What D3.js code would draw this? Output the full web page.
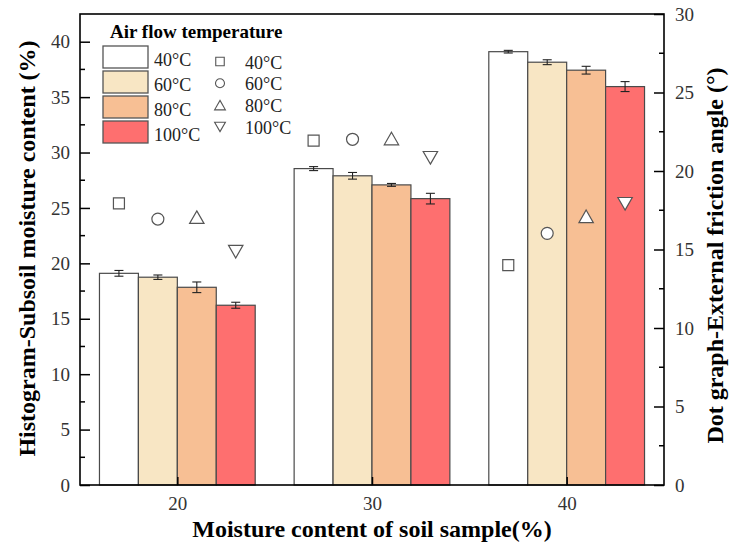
<!DOCTYPE html>
<html>
<head>
<meta charset="utf-8">
<script src="https://cdn.jsdelivr.net/npm/d3@7"></script>
<style>
  html, body { margin: 0; padding: 0; background: #fff; }
  svg { display: block; }
  text { font-family: "Times New Roman", "Liberation Serif", serif; }
</style>
</head>
<body>
<svg id="chart" width="731" height="542"></svg>
<script>
// moisture content of the soil sample (%)
const groups = [20, 30, 40];
// air flow temperatures
const temps = ['40°C', '60°C', '80°C', '100°C'];
// histogram: subsoil moisture content (%) per group, one value per temperature
const moisture = [
  [19.1, 18.75, 17.84, 16.22],
  [28.55, 27.9, 27.08, 25.84],
  [39.1, 38.15, 37.43, 35.95]
];
const moistureErr = [
  [0.26, 0.2, 0.48, 0.27],
  [0.18, 0.3, 0.13, 0.48],
  [0.12, 0.22, 0.35, 0.45]
];
// dot graph: external friction angle (°)
const angle = [
  [17.94, 16.94, 17.06, 14.86],
  [21.93, 22.02, 22.07, 20.84],
  [14.01, 16.03, 17.11, 17.91]
];
const leftTicks = [0, 5, 10, 15, 20, 25, 30, 35, 40];
const rightTicks = [0, 5, 10, 15, 20, 25, 30];
const barOffsets = [-3, -1, 1, 3];
const barColors = ['#ffffff', '#f8e6c4', '#f7bf94', '#fe6f6f'];
const markerShapes = ['square', 'circle', 'triangleUp', 'triangleDown'];

const margin = { top: 14, right: 67, bottom: 57, left: 80 };
const svg = d3.select('#chart');
const width = 731 - margin.left - margin.right;
const height = 542 - margin.top - margin.bottom;

const g = svg.append('g')
  .attr('transform', `translate(${margin.left},${margin.top})`);

const x = d3.scaleLinear().domain([15, 45]).range([0, width]);
const yLeft = d3.scaleLinear().domain([0, 42.5]).range([height, 0]);
const yRight = d3.scaleLinear().domain([0, 30]).range([height, 0]);
const barW = x(2) - x(0);

// flatten the table for drawing
const rows = [];
groups.forEach((grp, gi) => {
  temps.forEach((t, ti) => {
    rows.push({
      grp, ti,
      cx: grp + barOffsets[ti],
      v: moisture[gi][ti],
      e: moistureErr[gi][ti],
      a: angle[gi][ti]
    });
  });
});

// bars
g.append('g').selectAll('rect')
  .data(rows)
  .enter()
  .append('rect')
  .attr('x', d => x(d.cx) - barW / 2)
  .attr('y', d => yLeft(d.v))
  .attr('width', barW)
  .attr('height', d => yLeft(0) - yLeft(d.v))
  .attr('fill', d => barColors[d.ti])
  .attr('stroke', '#4a4a4a')
  .attr('stroke-width', 1.2);

// error bars
const err = g.append('g').attr('stroke', '#222').attr('stroke-width', 1.1);
rows.forEach(d => {
  const cx = x(d.cx);
  const y1 = yLeft(d.v + d.e), y0 = yLeft(d.v - d.e);
  err.append('line').attr('x1', cx).attr('x2', cx).attr('y1', y1).attr('y2', y0);
  err.append('line').attr('x1', cx - 4.5).attr('x2', cx + 4.5).attr('y1', y1).attr('y2', y1);
  err.append('line').attr('x1', cx - 4.5).attr('x2', cx + 4.5).attr('y1', y0).attr('y2', y0);
});

// marker path generator
function markerPath(shape, s) {
  if (shape === 'square') return `M${-s / 2},${-s / 2}h${s}v${s}h${-s}Z`;
  if (shape === 'circle') {
    const r = s / 2;
    return `M${-r},0A${r},${r} 0 1,0 ${r},0A${r},${r} 0 1,0 ${-r},0Z`;
  }
  const w = s * 1.2, h = s * 1.05;
  if (shape === 'triangleUp') return `M0,${-h / 2}L${w / 2},${h / 2}L${-w / 2},${h / 2}Z`;
  return `M0,${h / 2}L${w / 2},${-h / 2}L${-w / 2},${-h / 2}Z`;
}

// dots (right axis)
g.append('g').selectAll('path')
  .data(rows)
  .enter()
  .append('path')
  .attr('transform', d => `translate(${x(d.cx)},${yRight(d.a)})`)
  .attr('d', d => markerPath(markerShapes[d.ti], d.ti === 0 ? 11 : 12))
  .attr('fill', '#fff')
  .attr('stroke', '#555')
  .attr('stroke-width', 1.2);

// axes
const tickFont = sel => sel.selectAll('text')
  .attr('font-size', 19)
  .attr('fill', '#333')
  .style('font-family', '"Times New Roman", "Liberation Serif", serif');

const leftAxis = g.append('g')
  .call(d3.axisLeft(yLeft).tickValues(leftTicks).tickSize(-10).tickPadding(10).tickFormat(d3.format('d')));
const rightAxis = g.append('g')
  .attr('transform', `translate(${width},0)`)
  .call(d3.axisRight(yRight).tickValues(rightTicks).tickSize(-10).tickPadding(11).tickFormat(d3.format('d')));
const bottomAxis = g.append('g')
  .attr('transform', `translate(0,${height})`)
  .call(d3.axisBottom(x).tickValues(groups).tickSize(-8).tickPadding(12).tickFormat(d3.format('d')));

[leftAxis, rightAxis, bottomAxis].forEach(a => {
  a.select('.domain').remove();
  a.selectAll('.tick line').attr('stroke', '#000').attr('stroke-width', 1.5);
  tickFont(a);
});

// minor ticks
const minorL = d3.range(2.5, 42.5, 5);
g.append('g').selectAll('line')
  .data(minorL)
  .enter()
  .append('line')
  .attr('x1', 0).attr('x2', 5)
  .attr('y1', d => yLeft(d)).attr('y2', d => yLeft(d))
  .attr('stroke', '#000').attr('stroke-width', 1.5);
const minorR = d3.range(2.5, 30, 5);
g.append('g').selectAll('line')
  .data(minorR)
  .enter()
  .append('line')
  .attr('x1', width - 5).attr('x2', width)
  .attr('y1', d => yRight(d)).attr('y2', d => yRight(d))
  .attr('stroke', '#000').attr('stroke-width', 1.5);

// frame
g.append('rect')
  .attr('x', 0).attr('y', 0)
  .attr('width', width).attr('height', height)
  .attr('fill', 'none')
  .attr('stroke', '#000')
  .attr('stroke-width', 1.6);

// axis titles
svg.append('text')
  .attr('transform', `translate(35,${margin.top + height / 2 - 1}) rotate(-90)`)
  .attr('text-anchor', 'middle')
  .attr('font-size', 24)
  .attr('font-weight', 'bold')
  .text('Histogram-Subsoil moisture content (%)');
svg.append('text')
  .attr('transform', `translate(723,${margin.top + height / 2 + 6}) rotate(-90)`)
  .attr('text-anchor', 'middle')
  .attr('font-size', 24)
  .attr('font-weight', 'bold')
  .text('Dot graph-External friction angle (°)');
svg.append('text')
  .attr('x', margin.left + x(30))
  .attr('y', 537)
  .attr('text-anchor', 'middle')
  .attr('font-size', 24)
  .attr('font-weight', 'bold')
  .text('Moisture content of soil sample(%)');

// legend
const legend = svg.append('g');
legend.append('text')
  .attr('x', 110).attr('y', 38)
  .attr('font-size', 19)
  .attr('font-weight', 'bold')
  .text('Air flow temperature');

temps.forEach((t, i) => {
  const top = 46 + i * 25;
  legend.append('rect')
    .attr('x', 103).attr('y', top)
    .attr('width', 45).attr('height', 22)
    .attr('fill', barColors[i])
    .attr('stroke', '#555')
    .attr('stroke-width', 1.3);
  legend.append('text')
    .attr('x', 154).attr('y', top + 20)
    .attr('font-size', 18)
    .attr('fill', '#222')
    .text(t);

  const cy = 61.5 + i * 21.8;
  legend.append('path')
    .attr('transform', `translate(220,${cy})`)
    .attr('d', markerPath(markerShapes[i], i === 0 ? 8.5 : 9))
    .attr('fill', '#fff')
    .attr('stroke', '#555')
    .attr('stroke-width', 1.1);
  legend.append('text')
    .attr('x', 245).attr('y', cy + 7)
    .attr('font-size', 18)
    .attr('fill', '#222')
    .text(t);
});
</script>
</body>
</html>
